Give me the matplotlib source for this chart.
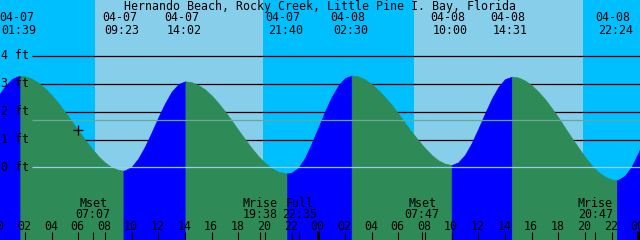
import numpy as np
import matplotlib.pyplot as plt

# tide chart, 2 days from 04-07 00:00 (hours on the x axis, feet on the y axis)

title = "Hernando Beach, Rocky Creek, Little Pine I. Bay, Florida"

# highs / lows as printed on top
ext_dates = ['04-07', '04-07', '04-07', '04-07', '04-08', '04-08', '04-08', '04-08']
ext_times = ['01:39', '09:23', '14:02', '21:40', '02:30', '10:00', '14:31', '22:24']
ext_days = [0, 0, 0, 0, 1, 1, 1, 1]

# tide height (hours since 04-07 00:00, ft)
tide_hr = [0.0, 0.5, 1.0, 1.5, 1.65, 2.0, 2.5, 3.0, 3.5, 4.0, 4.5, 5.0, 5.5, 6.0, 6.5, 7.0, 7.5, 8.0, 8.5, 9.0,
           9.383, 9.5, 10.0, 10.5, 11.0, 11.5, 12.0, 12.5, 13.0, 13.5, 14.0,
           14.033, 14.5, 15.0, 15.5, 16.0, 16.5, 17.0, 17.5, 18.0, 18.5, 19.0, 19.5, 20.0, 20.5, 21.0, 21.5,
           21.667, 22.0, 22.5, 23.0, 23.5, 24.0, 24.5, 25.0, 25.5, 26.0,
           26.5, 27.0, 27.5, 28.0, 28.5, 29.0, 29.5, 30.0, 30.5, 31.0, 31.5, 32.0, 32.5, 33.0, 33.5,
           34.0, 34.5, 35.0, 35.5, 36.0, 36.5, 37.0, 37.5, 38.0,
           38.517, 39.0, 39.5, 40.0, 40.5, 41.0, 41.5, 42.0, 42.5, 43.0, 43.5, 44.0, 44.5, 45.0, 45.5, 46.0,
           46.4, 46.5, 47.0, 47.5, 48.0, 48.5]
tide_ft = [2.57, 2.91, 3.17, 3.28, 3.29, 3.27, 3.19, 3.04, 2.84, 2.59, 2.31, 1.99, 1.66, 1.32, 0.99, 0.68, 0.40, 0.17, 0.00, -0.09,
           -0.12, -0.11, 0.02, 0.32, 0.75, 1.26, 1.80, 2.30, 2.72, 2.99, 3.09,
           3.09, 3.06, 2.96, 2.80, 2.58, 2.31, 2.01, 1.68, 1.34, 1.01, 0.69, 0.40, 0.16, -0.03, -0.16, -0.21,
           -0.22, -0.19, -0.02, 0.34, 0.86, 1.43, 2.01, 2.53, 2.94, 3.21,
           3.30, 3.27, 3.16, 2.99, 2.78, 2.52, 2.24, 1.93, 1.59, 1.27, 0.97, 0.69, 0.44, 0.25, 0.13,
           0.08, 0.18, 0.45, 0.87, 1.39, 1.94, 2.46, 2.89, 3.17,
           3.26, 3.23, 3.12, 2.95, 2.72, 2.45, 2.13, 1.79, 1.42, 1.06, 0.71, 0.37, 0.07, -0.17, -0.34, -0.44,
           -0.46, -0.45, -0.30, 0.03, 0.52, 1.10]

# moon events at the bottom
moon_names = ['Mset', 'Mrise', 'Full', 'Mset', 'Mrise']
moon_times = ['07:07', '19:38', '22:35', '07:47', '20:47']
moon_days = [0, 0, 0, 1, 1]

# daylight (hours)
sunrise = [7.25, 31.18]
sunset = [19.85, 43.85]

ft_levels = [0, 1, 2, 3, 4]
msl_ft = 1.69
now_hr, now_ft = 5.975, 1.34

day_col = '#87ceeb'
night_col = '#00bfff'
rise_col = '#0000ff'
fall_col = '#2e8b57'
FONT = dict(family='DejaVu Sans Mono', size=8.4, color='black')


def to_hr(t, day):
    hh, mm = t.split(':')
    return day * 24 + int(hh) + int(mm) / 60.0


ext_hr = [to_hr(t, d) for t, d in zip(ext_times, ext_days)]
moon_hr = [to_hr(t, d) for t, d in zip(moon_times, moon_days)]

fig = plt.figure(figsize=(6.4, 2.4), dpi=100)
ax = fig.add_axes([0, 0, 1, 1])
ax.set_xlim(0.125, 48.125)
ax.set_ylim(-2.615, 6.018)
ax.axis('off')

# background night / day
ax.axvspan(-1, 50, color=night_col, lw=0, zorder=0)
for a, b in zip(sunrise, sunset):
    ax.axvspan(a, b, color=day_col, lw=0, zorder=0)

# ft lines (behind the water)
x0 = 2.525  # lines start after the labels
for f in ft_levels[1:]:
    ax.hlines(f, x0, 49, color='black', lw=0.9, zorder=1)

# water: blue when rising, green when falling
hr = np.array(tide_hr)
ft = np.array(tide_ft)
cut = [0] + [int(np.argmin(np.abs(hr - e))) for e in ext_hr] + [len(hr) - 1]
for a, b in zip(cut[:-1], cut[1:]):
    col = rise_col if ft[b] > ft[a] else fall_col
    ax.fill_between(hr[a:b + 1], ft[a:b + 1], -3, color=col, lw=0.5, zorder=2)

# datum and mean sea level lines
ax.hlines(0, x0, 49, color='#92d2ea', lw=0.9, zorder=3)
ax.hlines(msl_ft, x0, 49, color='#62aa9a', lw=0.9, zorder=3)

ax.plot(now_hr, now_ft, marker='+', color='black', ms=7, mew=0.9, zorder=5)

for f in ft_levels:
    ax.text(0.2, f - 0.12, f"{f} ft", ha='left', va='baseline', zorder=6, **FONT)

xt = ax.get_xaxis_transform()
ax.text(0.5, 0.958, title, transform=ax.transAxes, ha='center', va='baseline', **FONT)
for h, d, t in zip(ext_hr, ext_dates, ext_times):
    ax.text(h - 0.3, 0.914, d, transform=xt, ha='center', va='baseline', **FONT)
    ax.text(h - 0.1, 0.858, t, transform=xt, ha='center', va='baseline', **FONT)

for h, n, t in zip(moon_hr, moon_names, moon_times):
    ax.text(h, 0.139, n, transform=xt, ha='center', va='baseline', zorder=6, **FONT)
    ax.text(h, 0.090, t, transform=xt, ha='center', va='baseline', zorder=6, **FONT)

# hour ticks + labels
for h in range(0, 50, 2):
    ax.text(h - 0.05, 0.042, f"{h % 24:02d}", transform=xt, ha='center', va='baseline', zorder=6, **FONT)
    if h % 24 == 0:
        ax.vlines(h, 0, 0.037, transform=xt, color='black', lw=2.2, zorder=6)
    else:
        ax.vlines(h, 0, 0.034, transform=xt, color='black', lw=0.8, zorder=6)
ax.vlines(moon_hr, 0, 0.034, transform=xt, color='black', lw=0.8, zorder=6)

fig.savefig('out.png', dpi=100)
